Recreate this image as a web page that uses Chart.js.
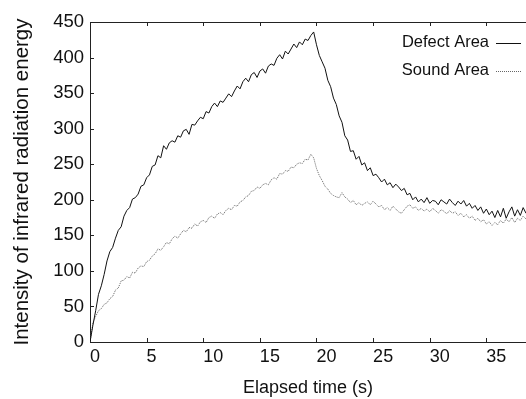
<!DOCTYPE html>
<html>
<head>
<meta charset="utf-8">
<script src="https://cdn.jsdelivr.net/npm/chart.js@4.4.0/dist/chart.umd.min.js"></script>
<style>
  html, body { margin: 0; padding: 0; background: #fff; }
  #wrap { width: 526px; height: 399px; position: relative; }
</style>
</head>
<body>
<div id="wrap"><canvas id="ir-chart"></canvas></div>
<script>
/* Elapsed time of each sample (s) */
let times = [
  0, 0.25, 0.5, 0.75, 1, 1.25, 1.5, 1.75,
  2, 2.25, 2.5, 2.75, 3, 3.25, 3.5, 3.75,
  4, 4.25, 4.5, 4.75, 5, 5.25, 5.5, 5.75,
  6, 6.25, 6.5, 6.75, 7, 7.25, 7.5, 7.75,
  8, 8.25, 8.5, 8.75, 9, 9.25, 9.5, 9.75,
  10, 10.25, 10.5, 10.75, 11, 11.25, 11.5, 11.75,
  12, 12.25, 12.5, 12.75, 13, 13.25, 13.5, 13.75,
  14, 14.25, 14.5, 14.75, 15, 15.25, 15.5, 15.75,
  16, 16.25, 16.5, 16.75, 17, 17.25, 17.5, 17.75,
  18, 18.25, 18.5, 18.75, 19, 19.25, 19.5, 19.75,
  20, 20.25, 20.5, 20.75, 21, 21.25, 21.5, 21.75,
  22, 22.25, 22.5, 22.75, 23, 23.25, 23.5, 23.75,
  24, 24.25, 24.5, 24.75, 25, 25.25, 25.5, 25.75,
  26, 26.25, 26.5, 26.75, 27, 27.25, 27.5, 27.75,
  28, 28.25, 28.5, 28.75, 29, 29.25, 29.5, 29.75,
  30, 30.25, 30.5, 30.75, 31, 31.25, 31.5, 31.75,
  32, 32.25, 32.5, 32.75, 33, 33.25, 33.5, 33.75,
  34, 34.25, 34.5, 34.75, 35, 35.25, 35.5, 35.75,
  36, 36.25, 36.5, 36.75, 37, 37.25, 37.5, 37.75,
  38, 38.25, 38.5
]

/* Defect area readings */
let defectArea = [
  0, 23, 44, 67, 79, 95, 114, 127,
  133, 146, 157, 162, 177, 185, 189, 201,
  203, 208, 219, 221, 231, 235, 247, 249,
  262, 259, 276, 271, 280, 283, 281, 290,
  288, 297, 299, 292, 306, 305, 311, 316,
  314, 324, 322, 331, 336, 331, 339, 337,
  343, 349, 345, 353, 360, 356, 366, 371,
  366, 376, 379, 372, 381, 384, 378, 388,
  391, 389, 399, 404, 398, 409, 405, 412,
  419, 414, 422, 418, 426, 424, 431, 436,
  418, 403, 394, 385, 368, 359, 343, 334,
  318, 309, 290, 284, 268, 269, 257, 261,
  249, 252, 241, 245, 234, 236, 231, 225,
  229, 221, 224, 217, 222, 218, 213, 216,
  207, 209, 200, 204, 197, 201, 196, 203,
  195, 199, 198, 193, 200, 197, 194, 201,
  196, 192, 198, 194, 199, 191, 195, 188,
  192, 185, 190, 181, 187, 179, 184, 175,
  185, 176, 188, 174, 183, 190, 177, 186,
  178, 189, 181
]

/* Sound area readings */
let soundArea = [
  0, 27, 36, 44, 47, 53, 55, 61,
  64, 73, 76, 86, 87, 92, 90, 98,
  97, 104, 107, 106, 113, 115, 121, 124,
  131, 129, 134, 140, 138, 145, 149, 146,
  152, 157, 155, 161, 160, 166, 163, 169,
  171, 168, 175, 177, 174, 180, 182, 179,
  185, 188, 186, 192, 191, 197, 199, 204,
  206, 212, 213, 218, 216, 221, 223, 221,
  228, 231, 229, 237, 236, 241, 240, 246,
  245, 250, 252, 251, 257, 256, 264, 259,
  244, 234, 227, 219, 215, 209, 206, 204,
  203, 210, 204, 201, 196, 199, 193, 196,
  192, 195, 197, 193, 198, 194, 190, 192,
  186, 189, 185, 191, 187, 183, 181, 186,
  191, 193, 188, 190, 185, 188, 184, 187,
  183, 188, 185, 181, 186, 184, 180, 185,
  181, 183, 178, 181, 176, 179, 174, 177,
  171, 174, 169, 172, 166, 169, 164, 168,
  165, 171, 167, 173, 169, 175, 168, 174,
  171, 177, 173
]

let seriesNames = ['Defect Area', 'Sound Area']
let xTicks = [0, 5, 10, 15, 20, 25, 30, 35]
let yTicks = [0, 50, 100, 150, 200, 250, 300, 350, 400, 450]

let fontFamily = "'Liberation Sans', Arial, sans-serif"

function toPoints(values) {
    return values.map(function(v, i) { return { x: times[i], y: v } })
}

// inward tick marks, top border and the text-then-line legend
let frameAndLegend = {
    id: 'frameAndLegend',
    afterDraw: function(chart) {
        let ctx = chart.ctx
        let area = chart.chartArea
        let xs = chart.scales.x
        let ys = chart.scales.y
        ctx.save()
        ctx.strokeStyle = '#222'
        ctx.lineWidth = 1
        ctx.beginPath()
        ctx.moveTo(area.left, area.top + 0.5)
        ctx.lineTo(area.right, area.top + 0.5)
        xTicks.forEach(function(t) {
            if (t == 0) return
            let px = Math.round(xs.getPixelForValue(t)) + 0.5
            ctx.moveTo(px, area.bottom)
            ctx.lineTo(px, area.bottom - 4)
            ctx.moveTo(px, area.top)
            ctx.lineTo(px, area.top + 4)
        })
        yTicks.forEach(function(v) {
            if (v == 0 || v == 450) return
            let py = Math.round(ys.getPixelForValue(v)) + 0.5
            ctx.moveTo(area.left, py)
            ctx.lineTo(area.left + 4, py)
        })
        ctx.stroke()

        // legend: name on the left, line sample on the right
        ctx.font = '16.5px ' + fontFamily
        ctx.fillStyle = '#111'
        ctx.textAlign = 'right'
        ctx.textBaseline = 'middle'
        chart.data.datasets.forEach(function(ds, i) {
            let y = 42 + i * 28
            ctx.fillText(ds.label, 489, y)
            ctx.beginPath()
            ctx.strokeStyle = ds.borderColor
            ctx.lineWidth = ds.borderWidth
            ctx.setLineDash(ds.borderDash || [])
            ctx.moveTo(496, y + 1.5)
            ctx.lineTo(521, y + 1.5)
            ctx.stroke()
        })
        ctx.restore()
    }
}

let chartCanvas = document.querySelector('#ir-chart')
let ctx = chartCanvas.getContext('2d')

let irChart = new Chart(ctx, {
    type: 'line',
    data: {
        datasets: [
            {
                label: seriesNames[0],
                data: toPoints(defectArea),
                borderColor: '#111',
                borderWidth: 1,
                pointRadius: 0,
                tension: 0
            },
            {
                label: seriesNames[1],
                data: toPoints(soundArea),
                borderColor: '#666',
                borderWidth: 1,
                borderDash: [1, 1],
                pointRadius: 0,
                tension: 0
            }
        ]
    },
    options: {
        responsive: true,
        maintainAspectRatio: false,
        animation: false,
        layout: { padding: { top: 22, right: 0, left: 0, bottom: 0 } },
        plugins: {
            legend: { display: false },
            tooltip: { enabled: false }
        },
        scales: {
            x: {
                type: 'linear',
                min: 0,
                max: 38.5,
                afterBuildTicks: function(scale) {
                    scale.ticks = xTicks.map(function(v) { return { value: v } })
                },
                afterFit: function(scale) { scale.height = 57 },
                grid: { display: false, drawTicks: false },
                border: { display: true, color: '#222', width: 1 },
                ticks: {
                    align: 'start',
                    padding: 4,
                    color: '#111',
                    maxRotation: 0,
                    font: { family: fontFamily, size: 18 }
                },
                title: {
                    display: true,
                    text: 'Elapsed time (s)',
                    color: '#111',
                    padding: { top: 0, bottom: 0 },
                    font: { family: fontFamily, size: 18 }
                }
            },
            y: {
                min: 0,
                max: 450,
                afterBuildTicks: function(scale) {
                    scale.ticks = yTicks.map(function(v) { return { value: v } })
                },
                afterFit: function(scale) { scale.width = 90 },
                grid: { display: false, drawTicks: false },
                border: { display: true, color: '#222', width: 1 },
                ticks: {
                    padding: 6,
                    color: '#111',
                    font: { family: fontFamily, size: 18.5 }
                },
                title: {
                    display: true,
                    text: 'Intensity of infrared radiation energy',
                    color: '#111',
                    padding: { top: 10, bottom: 0 },
                    font: { family: fontFamily, size: 20.5 }
                }
            }
        }
    },
    plugins: [frameAndLegend]
})
</script>
</body>
</html>
